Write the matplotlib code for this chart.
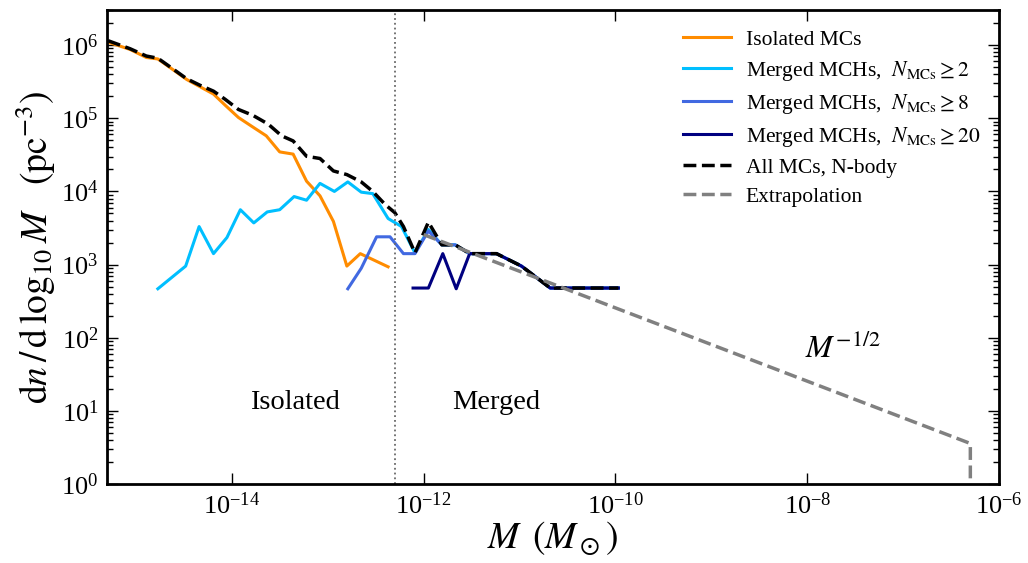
import numpy as np
import matplotlib
matplotlib.use('Agg')
import matplotlib.pyplot as plt
from matplotlib.ticker import LogLocator, NullLocator

plt.rcParams['font.family'] = 'serif'
plt.rcParams['font.serif'] = ['Liberation Serif', 'DejaVu Serif']
plt.rcParams['mathtext.fontset'] = 'stix'

# values, as log10 M and log10 dn/dlogM
all_logm = [-15.29, -15.06, -14.89, -14.77, -14.63, -14.47, -14.33, -14.19, -14.07, -13.93,
            -13.78, -13.62, -13.48, -13.36, -13.22, -13.08, -12.94, -12.80, -12.65, -12.53,
            -12.40, -12.30, -12.21, -12.09, -11.95, -11.81, -11.67, -11.52, -11.24, -10.98,
            -10.68, -9.97]
all_logn = [6.06, 5.95, 5.85, 5.82, 5.69, 5.54, 5.45, 5.37, 5.26, 5.12,
            5.04, 4.92, 4.76, 4.69, 4.48, 4.45, 4.28, 4.23, 4.13, 4.00,
            3.82, 3.71, 3.52, 3.16, 3.58, 3.27, 3.27, 3.15, 3.15, 2.98,
            2.68, 2.68]

iso_logm = [-15.29, -15.06, -14.89, -14.77, -14.63, -14.47, -14.33, -14.19, -14.07, -13.93,
            -13.78, -13.64, -13.50, -13.36, -13.22, -13.08, -12.94, -12.80, -12.66, -12.37]
iso_logn = [6.04, 5.94, 5.83, 5.81, 5.68, 5.53, 5.43, 5.33, 5.18, 5.01,
            4.88, 4.76, 4.54, 4.51, 4.14, 3.94, 3.59, 2.98, 3.15, 2.97]

n2_logm = [-14.77, -14.48, -14.34, -14.19, -14.05, -13.91, -13.77, -13.63, -13.50, -13.35,
           -13.22, -13.08, -12.93, -12.79, -12.65, -12.53, -12.37, -12.23, -12.09, -11.95,
           -11.81, -11.67, -11.52, -11.24, -10.98, -10.68, -9.97]
n2_logn = [2.67, 2.98, 3.52, 3.15, 3.37, 3.75, 3.57, 3.72, 3.75, 3.93,
           3.88, 4.11, 4.00, 4.13, 3.99, 3.97, 3.63, 3.52, 3.16, 3.48,
           3.27, 3.27, 3.15, 3.15, 2.98, 2.68, 2.68]

n8_logm = [-12.79, -12.65, -12.49, -12.35, -12.21, -12.09, -11.95, -11.81, -11.67, -11.52,
           -11.24, -10.98, -10.68, -9.97]
n8_logn = [2.67, 2.95, 3.38, 3.38, 3.15, 3.15, 3.46, 3.27, 3.27, 3.15,
           3.15, 2.98, 2.68, 2.68]

n20_logm = [-12.11, -11.95, -11.80, -11.66, -11.52, -11.24, -10.98, -10.68, -9.97]
n20_logn = [2.68, 2.68, 3.15, 2.67, 3.15, 3.15, 2.98, 2.68, 2.68]

# M^-1/2 extrapolation end points, then the drop at the cut-off
ext_m = [1e-12, 5e-7, 5e-7]
ext_n = [2570., 3.6, 0.5]

m_split = 5e-13

fig = plt.figure(figsize=(10.28, 5.63), dpi=100)
ax = fig.add_axes([0.104, 0.140, 0.868, 0.842])

def pw(v):
    return 10 ** np.array(v)

ax.plot(pw(iso_logm), pw(iso_logn), color='darkorange', lw=2.2, label='Isolated MCs')
ax.plot(pw(n2_logm), pw(n2_logn), color='deepskyblue', lw=2.2,
        label=r'Merged MCHs,  $N_{\rm MCs} \geq 2$')
ax.plot(pw(n8_logm), pw(n8_logn), color='royalblue', lw=2.2,
        label=r'Merged MCHs,  $N_{\rm MCs} \geq 8$')
ax.plot(pw(n20_logm), pw(n20_logn), color='navy', lw=2.2,
        label=r'Merged MCHs,  $N_{\rm MCs} \geq 20$')
ax.plot(pw(all_logm), pw(all_logn), color='black', ls='--', lw=2.5, label='All MCs, N-body')
ax.plot(ext_m, ext_n, color='gray', ls='--', lw=2.5, label='Extrapolation')

ax.axvline(m_split, color='dimgray', ls=':', lw=1.3)

ax.set_xscale('log')
ax.set_yscale('log')
ax.set_xlim(5e-16, 1e-6)
ax.set_ylim(1, 3e6)

ax.set_xticks([1e-14, 1e-12, 1e-10, 1e-8, 1e-6])
ax.xaxis.set_minor_locator(NullLocator())
ax.yaxis.set_major_locator(LogLocator(base=10, numticks=10))
ax.yaxis.set_minor_locator(LogLocator(base=10, subs=np.arange(2, 10), numticks=20))
ax.tick_params(which='both', direction='in', top=True, right=True, labelsize=19)
ax.tick_params(which='major', length=8, width=1, pad=6)
ax.tick_params(which='minor', length=4, width=1)
for s in ax.spines.values():
    s.set_linewidth(2)

ax.set_xlabel(r'$M\ \,(M_\odot)$', fontsize=27, labelpad=0)
ax.set_ylabel(r'$\mathrm{d}n\,/\,\mathrm{d}\,\log_{10} M\ \ \ (\mathrm{pc}^{-3})$', fontsize=27, labelpad=2)

ax.text(10 ** -13.34, 10 ** 1.11, 'Isolated', fontsize=20.5, ha='center', va='center')
ax.text(10 ** -11.24, 10 ** 1.11, 'Merged', fontsize=20.5, ha='center', va='center')
ax.text(10 ** -7.63, 10 ** 1.84, r'$M^{-1/2}$', fontsize=23, ha='center', va='center')

ax.legend(loc='upper right', frameon=False, fontsize=15.5, handlelength=2.2,
          labelspacing=0.42, borderaxespad=0.5, handletextpad=0.7)

fig.savefig('out.png', dpi=100)
